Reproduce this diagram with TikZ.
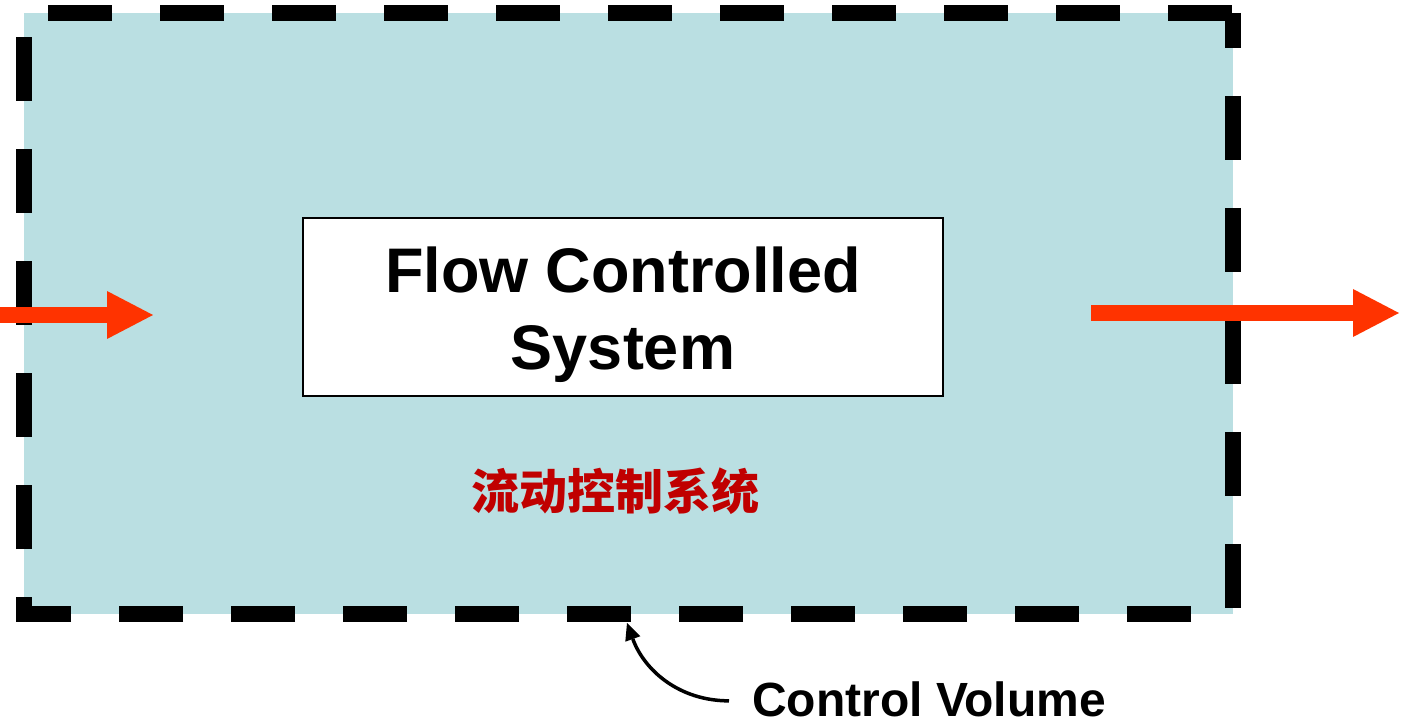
\documentclass[tikz,border=0pt]{standalone}
\usepackage{fontspec}
\setmainfont{Liberation Sans}
\newfontfamily\cjk{Noto Sans CJK SC}
\usetikzlibrary{arrows.meta}

\definecolor{cvfill}{RGB}{186,223,226}
\definecolor{flowred}{RGB}{255,51,0}
\definecolor{cnred}{RGB}{192,0,0}

\begin{document}
\begin{tikzpicture}[x=1pt, y=1pt,
    cvbox/.style={fill=cvfill, minimum width=1209pt, minimum height=601pt, inner sep=0pt, outer sep=0pt},
    cvline/.style={line width=16pt, dash pattern=on 64pt off 48pt, line join=miter},
    sysbox/.style={draw, line width=2.5pt, fill=white, minimum width=640pt, minimum height=178pt},
    systext/.style={align=center, inner sep=0pt, font=\bfseries\fontsize{63}{77}\selectfont},
    cntext/.style={text=cnred, inner sep=0pt, font=\cjk\bfseries\fontsize{48}{58}\selectfont},
    cvtext/.style={inner sep=0pt, anchor=base west, font=\bfseries\fontsize{48}{56}\selectfont},
    flow/.style={flowred, line width=16pt, -{Triangle[length=46pt, width=48pt, line width=0pt]}},
    pointer/.style={line width=3.5pt, -{Triangle[length=17pt, width=16pt, line width=0pt]}}]
  \useasboundingbox (0,0) rectangle (1401,724);
  % control volume
  \node[cvbox] (cv) at (628.5,410.5) {};
  \draw[cvline, dash phase=47pt] (cv.south west) -- (cv.north west) -- (cv.north east);
  \draw[cvline, dash phase=29pt] (cv.north east) -- (cv.south east) -- (cv.south west) -- ++(0,17);
  % system
  \node[sysbox] (sys) at (623,417) {};
  \node[systext] (sysname) at (623,409.5) {Flow Controlled\\System};
  \node[cntext] (cnname) at (615,233) {流动控制系统};
  % flows in and out
  \coordinate (in0) at (0,409);
  \coordinate (in1) at (153,409);
  \coordinate (out0) at (1091,411);
  \coordinate (out1) at (1399,411);
  \draw[flow] (in0) -- (in1);
  \draw[flow] (out0) -- (out1);
  % label
  \node[cvtext] (cvname) at (752,8) {Control Volume};
  \coordinate (tail) at ([xshift=-23pt,yshift=-2pt]cvname.west);
  \coordinate (tip) at ([shift={(-1.5,-9)}]cv.south);
  \draw[pointer] (tail) to[out=180, in=-70] (tip);
\end{tikzpicture}
\end{document}
